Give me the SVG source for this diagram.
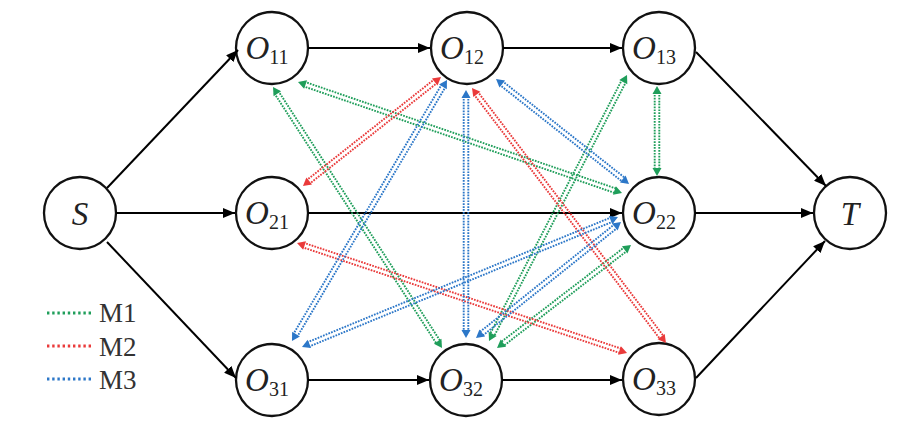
<svg xmlns="http://www.w3.org/2000/svg" width="899" height="430" viewBox="0 0 899 430">
<defs>
<marker id="ah" markerUnits="userSpaceOnUse" markerWidth="13" markerHeight="10" refX="12" refY="5" orient="auto">
<path d="M0,0 L12,5 L0,10 Z" fill="#000"/>
</marker>
<style>
.node circle{fill:#fff;stroke:#111;stroke-width:2.3}
.lbl{font-family:"Liberation Serif",serif;fill:#222}
.o{font-style:italic;font-size:33px}
.sub{font-size:20px}
.cal{font-style:italic;font-size:33px}
.blk line{stroke:#000;stroke-width:2;marker-end:url(#ah)}
.c line{stroke-width:1.9;stroke-dasharray:1.7 1.2}
.m1 line{stroke:#1f9e5a}.m1 path{fill:#1f9e5a}
.m2 line{stroke:#ea3a3a}.m2 path{fill:#ea3a3a}
.m3 line{stroke:#2c77c8}.m3 path{fill:#2c77c8}
.leg line{stroke-width:2.8;stroke-dasharray:2.4 2.8}
.legt{font-family:"Liberation Serif",serif;font-size:27px;fill:#333}
</style>
</defs>
<rect width="899" height="430" fill="#fff"/>

<g id="node-S" class="node"><circle cx="80" cy="213" r="36"/><text class="lbl cal" x="80" y="225" text-anchor="middle">S</text></g>
<g id="node-O11" class="node"><circle cx="272" cy="48" r="36"/><text class="lbl" x="267" y="59" text-anchor="middle"><tspan class="o">O</tspan><tspan class="sub" dy="5">11</tspan></text></g>
<g id="node-O12" class="node"><circle cx="467" cy="48" r="36"/><text class="lbl" x="462" y="59" text-anchor="middle"><tspan class="o">O</tspan><tspan class="sub" dy="5">12</tspan></text></g>
<g id="node-O13" class="node"><circle cx="659" cy="48" r="36"/><text class="lbl" x="654" y="59" text-anchor="middle"><tspan class="o">O</tspan><tspan class="sub" dy="5">13</tspan></text></g>
<g id="node-O21" class="node"><circle cx="272" cy="213" r="36"/><text class="lbl" x="267" y="224" text-anchor="middle"><tspan class="o">O</tspan><tspan class="sub" dy="5">21</tspan></text></g>
<g id="node-O22" class="node"><circle cx="659" cy="213" r="36"/><text class="lbl" x="654" y="224" text-anchor="middle"><tspan class="o">O</tspan><tspan class="sub" dy="5">22</tspan></text></g>
<g id="node-O31" class="node"><circle cx="272" cy="380" r="36"/><text class="lbl" x="267" y="391" text-anchor="middle"><tspan class="o">O</tspan><tspan class="sub" dy="5">31</tspan></text></g>
<g id="node-O32" class="node"><circle cx="466" cy="380" r="36"/><text class="lbl" x="461" y="391" text-anchor="middle"><tspan class="o">O</tspan><tspan class="sub" dy="5">32</tspan></text></g>
<g id="node-O33" class="node"><circle cx="659" cy="379" r="36"/><text class="lbl" x="654" y="390" text-anchor="middle"><tspan class="o">O</tspan><tspan class="sub" dy="5">33</tspan></text></g>
<g id="node-T" class="node"><circle cx="850" cy="213" r="36"/><text class="lbl cal" x="850" y="225" text-anchor="middle">T</text></g>

<g id="connectors">
<g class="blk">
<line x1="107" y1="188" x2="238" y2="50"/>
<line x1="116" y1="213" x2="235" y2="213"/>
<line x1="107" y1="242" x2="236" y2="378"/>
<line x1="308" y1="48" x2="430" y2="48"/>
<line x1="503" y1="48" x2="622" y2="48"/>
<line x1="308" y1="213" x2="622" y2="213"/>
<line x1="695" y1="213" x2="813" y2="213"/>
<line x1="308" y1="380" x2="429" y2="380"/>
<line x1="502" y1="380" x2="622" y2="380"/>
<line x1="696" y1="52" x2="826" y2="186"/>
<line x1="696" y1="378" x2="825" y2="241"/>
</g>

<g class="c m1" transform="translate(298 82) rotate(18.91)"><line x1="6" y1="-2.3" x2="336.5" y2="-2.3"/><line x1="6" y1="2.3" x2="336.5" y2="2.3"/><path d="M0,0 L8,-4.5 L8,4.5Z"/><path d="M342.5,0 L334.5,-4.5 L334.5,4.5Z"/></g>
<g class="c m1" transform="translate(273 87) rotate(57.07)"><line x1="6" y1="-2.3" x2="304.9" y2="-2.3"/><line x1="6" y1="2.3" x2="304.9" y2="2.3"/><path d="M0,0 L8,-4.5 L8,4.5Z"/><path d="M310.9,0 L302.9,-4.5 L302.9,4.5Z"/></g>
<g class="c m1" transform="translate(627 75) rotate(117.42)"><line x1="6" y1="-2.3" x2="293.7" y2="-2.3"/><line x1="6" y1="2.3" x2="293.7" y2="2.3"/><path d="M0,0 L8,-4.5 L8,4.5Z"/><path d="M299.7,0 L291.7,-4.5 L291.7,4.5Z"/></g>
<g class="c m1" transform="translate(657 86) rotate(90)"><line x1="6" y1="-2.3" x2="84" y2="-2.3"/><line x1="6" y1="2.3" x2="84" y2="2.3"/><path d="M0,0 L8,-4.5 L8,4.5Z"/><path d="M90,0 L82,-4.5 L82,4.5Z"/></g>
<g class="c m1" transform="translate(631 245) rotate(142.45)"><line x1="6" y1="-2.3" x2="163" y2="-2.3"/><line x1="6" y1="2.3" x2="163" y2="2.3"/><path d="M0,0 L8,-4.5 L8,4.5Z"/><path d="M169,0 L161,-4.5 L161,4.5Z"/></g>

<g class="c m2" transform="translate(441 77) rotate(141.70)"><line x1="6" y1="-2.3" x2="169.9" y2="-2.3"/><line x1="6" y1="2.3" x2="169.9" y2="2.3"/><path d="M0,0 L8,-4.5 L8,4.5Z"/><path d="M175.9,0 L167.9,-4.5 L167.9,4.5Z"/></g>
<g class="c m2" transform="translate(472 88) rotate(52.74)"><line x1="6" y1="-2.3" x2="314.4" y2="-2.3"/><line x1="6" y1="2.3" x2="314.4" y2="2.3"/><path d="M0,0 L8,-4.5 L8,4.5Z"/><path d="M320.4,0 L312.4,-4.5 L312.4,4.5Z"/></g>
<g class="c m2" transform="translate(297 243) rotate(18.43)"><line x1="6" y1="-2.3" x2="341.9" y2="-2.3"/><line x1="6" y1="2.3" x2="341.9" y2="2.3"/><path d="M0,0 L8,-4.5 L8,4.5Z"/><path d="M347.9,0 L339.9,-4.5 L339.9,4.5Z"/></g>

<g class="c m3" transform="translate(447 80) rotate(120.71)"><line x1="6" y1="-2.3" x2="297.6" y2="-2.3"/><line x1="6" y1="2.3" x2="297.6" y2="2.3"/><path d="M0,0 L8,-4.5 L8,4.5Z"/><path d="M303.6,0 L295.6,-4.5 L295.6,4.5Z"/></g>
<g class="c m3" transform="translate(466 90) rotate(90)"><line x1="6" y1="-2.3" x2="242" y2="-2.3"/><line x1="6" y1="2.3" x2="242" y2="2.3"/><path d="M0,0 L8,-4.5 L8,4.5Z"/><path d="M248,0 L240,-4.5 L240,4.5Z"/></g>
<g class="c m3" transform="translate(496 79) rotate(38.29)"><line x1="6" y1="-2.3" x2="163.5" y2="-2.3"/><line x1="6" y1="2.3" x2="163.5" y2="2.3"/><path d="M0,0 L8,-4.5 L8,4.5Z"/><path d="M169.5,0 L161.5,-4.5 L161.5,4.5Z"/></g>
<g class="c m3" transform="translate(618 217) rotate(157.64)"><line x1="6" y1="-2.3" x2="335.7" y2="-2.3"/><line x1="6" y1="2.3" x2="335.7" y2="2.3"/><path d="M0,0 L8,-4.5 L8,4.5Z"/><path d="M341.7,0 L333.7,-4.5 L333.7,4.5Z"/></g>
<g class="c m3" transform="translate(621 222) rotate(141.34)"><line x1="6" y1="-2.3" x2="179.7" y2="-2.3"/><line x1="6" y1="2.3" x2="179.7" y2="2.3"/><path d="M0,0 L8,-4.5 L8,4.5Z"/><path d="M185.7,0 L177.7,-4.5 L177.7,4.5Z"/></g>
</g>

<g id="legend" class="leg">
<line x1="47" y1="313" x2="93" y2="313" stroke="#1f9e5a"/>
<line x1="47" y1="346" x2="93" y2="346" stroke="#ea3a3a"/>
<line x1="47" y1="379" x2="93" y2="379" stroke="#2c77c8"/>
<text class="legt" x="99" y="322">M1</text>
<text class="legt" x="99" y="356">M2</text>
<text class="legt" x="99" y="389">M3</text>
</g>
</svg>
